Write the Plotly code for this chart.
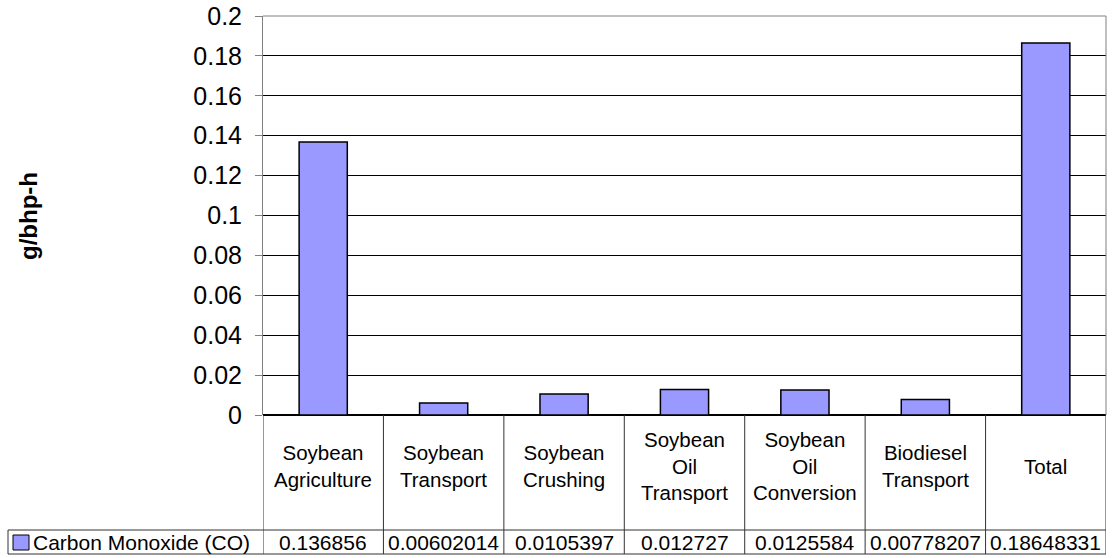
import plotly.graph_objects as go

# data
categories = ["Soybean Agriculture", "Soybean Transport", "Soybean Crushing",
              "Soybean Oil Transport", "Soybean Oil Conversion",
              "Biodiesel Transport", "Total"]
category_labels = ["Soybean<br>Agriculture", "Soybean<br>Transport", "Soybean<br>Crushing",
                   "Soybean<br>Oil<br>Transport", "Soybean<br>Oil<br>Conversion",
                   "Biodiesel<br>Transport", "Total"]
co_values = [0.136856, 0.00602014, 0.0105397, 0.012727, 0.0125584, 0.00778207, 0.18648331]
series_name = "Carbon Monoxide (CO)"
y_ticks = [0, 0.02, 0.04, 0.06, 0.08, 0.1, 0.12, 0.14, 0.16, 0.18, 0.2]

W, H = 1119, 558
L, R, T, B = 263, 13, 16, 143
FONT = "Liberation Sans, Arial, sans-serif"
BAR_COLOR = "#9999FF"
LINE = "#333333"


def px_x(p):
    return (p - L) / (W - L - R)


def px_y(p):
    return (H - B - p) / (H - T - B)


fig = go.Figure()
fig.add_trace(go.Bar(
    x=categories, y=co_values, name=series_name,
    marker=dict(color=BAR_COLOR, line=dict(color="black", width=1.5)),
    showlegend=False,
))

shapes = []
# vertical lines of the category / data table
for i in range(len(categories) + 1):
    shapes.append(dict(type="line", xref="x", yref="paper", x0=i - 0.5, x1=i - 0.5,
                       y0=0, y1=px_y(554), line=dict(color=LINE, width=1)))
# horizontal lines of the data row
for yy in (530, 554):
    shapes.append(dict(type="line", xref="paper", yref="paper", x0=px_x(8), x1=1,
                       y0=px_y(yy), y1=px_y(yy), line=dict(color=LINE, width=1)))
shapes.append(dict(type="line", xref="paper", yref="paper", x0=px_x(8), x1=px_x(8),
                   y0=px_y(530), y1=px_y(554), line=dict(color=LINE, width=1)))
# plot border top / right
shapes.append(dict(type="line", xref="paper", yref="paper", x0=0, x1=1, y0=1, y1=1,
                   line=dict(color="#808080", width=1)))
shapes.append(dict(type="line", xref="paper", yref="paper", x0=1, x1=1, y0=0, y1=1,
                   line=dict(color="#808080", width=1)))
# legend key
shapes.append(dict(type="rect", xref="paper", yref="paper", x0=px_x(13), x1=px_x(29),
                   y0=px_y(550), y1=px_y(535), fillcolor=BAR_COLOR,
                   line=dict(color="black", width=1)))

annotations = []
for cat, lab, v in zip(categories, category_labels, co_values):
    annotations.append(dict(x=cat, xref="x", y=px_y(466), yref="paper", text=lab,
                            showarrow=False, yanchor="middle", xanchor="center",
                            font=dict(size=20.5, color="black", family=FONT)))
    annotations.append(dict(x=cat, xref="x", y=px_y(542), yref="paper", text=str(v),
                            showarrow=False, yanchor="middle", xanchor="center",
                            font=dict(size=21, color="black", family=FONT)))
annotations.append(dict(x=px_x(31), xref="paper", y=px_y(542), yref="paper", text=series_name,
                        showarrow=False, yanchor="middle", xanchor="left",
                        font=dict(size=21, color="black", family=FONT)))
annotations.append(dict(x=px_x(28), xref="paper", y=px_y(216), yref="paper", text="<b>g/bhp-h</b>",
                        textangle=-90, showarrow=False, yanchor="middle", xanchor="center",
                        font=dict(size=24, color="black", family=FONT)))

fig.update_layout(
    width=W, height=H,
    margin=dict(l=L, r=R, t=T, b=B, autoexpand=False),
    paper_bgcolor="white", plot_bgcolor="white",
    bargap=0.6,
    font=dict(family=FONT, color="black"),
    shapes=shapes, annotations=annotations,
    xaxis=dict(showticklabels=False, showgrid=False, zeroline=False, showline=False,
               ticks="", automargin=False, range=[-0.5, len(categories) - 0.5]),
    yaxis=dict(range=[0, 0.2], tickvals=y_ticks, ticktext=[f"{t:g}" for t in y_ticks],
               automargin=False,
               showgrid=True, gridcolor="black", gridwidth=1,
               zeroline=True, zerolinecolor="black", zerolinewidth=1.5,
               showline=True, linecolor="#808080", linewidth=1,
               ticks="outside", ticklen=7, tickcolor="#808080",
               ticklabelstandoff=8,
               tickfont=dict(size=25, color="black", family=FONT)),
)

fig.write_html("out.html", config={"displayModeBar": False},
               post_script="document.body.style.margin='0';")
